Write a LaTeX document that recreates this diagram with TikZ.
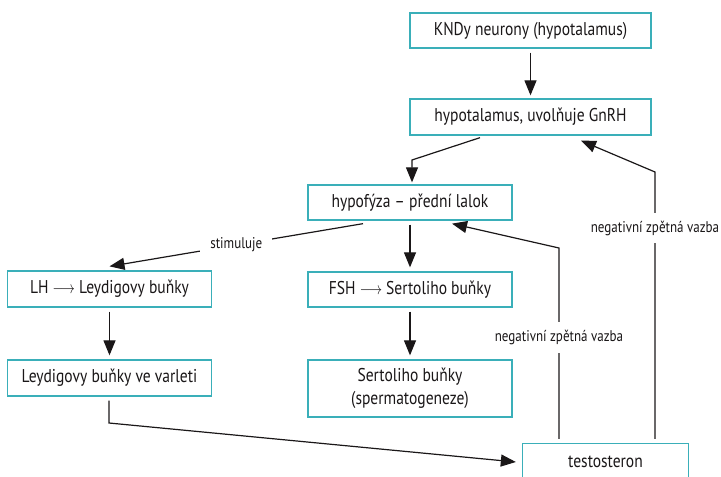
\documentclass[tikz,border=0pt]{standalone}
\usepackage{fontspec}
\setmainfont[FakeStretch=0.84]{PT Sans}
\usetikzlibrary{arrows.meta,calc}
\definecolor{boxteal}{HTML}{3AAFB9}
\definecolor{ink}{HTML}{1A1718}
\newcommand{\myarrow}{\scalebox{0.8}[1]{$\longrightarrow$}}
\tikzset{
  box/.style={draw=boxteal, line width=1.3pt, fill=white, text=ink, font=\fontsize{18.5}{22}\selectfont, inner sep=0pt, align=center},
  arr/.style={draw=ink, line width=1.2pt, -{Triangle[length=15pt,width=12pt]}},
  lab/.style={fill=white, text=ink, font=\fontsize{15.5}{18}\selectfont, inner xsep=4pt, inner ysep=8pt}
}
\begin{document}
\begin{tikzpicture}[x=1pt,y=-1pt]
\useasboundingbox (0,0) rectangle (721,477);
\clip (0,0) rectangle (721,477);
\node[box, minimum width=241pt, minimum height=35pt] (knd) at (530.5,30.5) {KNDy neurony (hypotalamus)};
\node[box, minimum width=241pt, minimum height=36pt] (hyp) at (530.5,117) {hypotalamus, uvolňuje GnRH};
\node[box, minimum width=204pt, minimum height=35pt] (pit) at (410,202.5) {hypofýza – přední lalok};
\node[box, minimum width=204pt, minimum height=36pt] (lh) at (109.5,289) {LH \myarrow{} Leydigovy buňky};
\node[box, minimum width=204pt, minimum height=35pt] (fsh) at (410,289.5) {FSH \myarrow{} Sertoliho buňky};
\node[box, minimum width=204pt, minimum height=36pt] (ley) at (109.5,378) {Leydigovy buňky ve varleti};
\node[box, minimum width=204pt, minimum height=57pt] (ser) at (410,388.5) {Sertoliho buňky\\[1pt](spermatogeneze)};
\node[box, minimum width=166pt, minimum height=37pt] (tes) at (605.5,462) {testosteron};

\coordinate (c1) at (412,160);
\coordinate (c2) at (109,423);
\coordinate (c3) at (559,248);
\coordinate (c4) at (655,172);

\draw[arr] ([yshift=-4pt]knd.south) -- ([yshift=3pt]hyp.north);
\draw[arr] ([xshift=-50.5pt,yshift=-2pt]hyp.south) -- (c1) -- ([xshift=2pt,yshift=2pt]pit.north);
\draw[arr] ([xshift=-47pt,yshift=-3pt]pit.south) -- node[lab, inner xsep=10pt, inner ysep=3pt]{stimuluje} ([yshift=4pt]lh.north);
\draw[arr] ([yshift=-4pt]pit.south) -- ([yshift=4pt]fsh.north);
\draw[arr] ([yshift=-4pt]fsh.south) -- ([yshift=4pt]ser.north);
\draw[arr] ([yshift=-4pt]lh.south) -- ([yshift=4pt]ley.north);
\draw[arr] ([xshift=-0.5pt,yshift=-4pt]ley.south) -- (c2) -- ([xshift=-6pt]tes.west);
\draw[arr] ([xshift=-46.5pt,yshift=4pt]tes.north) -- node[lab, pos=0.53]{negativní zpětná vazba} (c3) -- ([xshift=42pt,yshift=-3pt]pit.south);
\draw[arr] ([xshift=49.5pt,yshift=4pt]tes.north) -- node[lab, pos=0.79]{negativní zpětná vazba} (c4) -- ([xshift=50.5pt,yshift=-5pt]hyp.south);
\end{tikzpicture}
\end{document}
